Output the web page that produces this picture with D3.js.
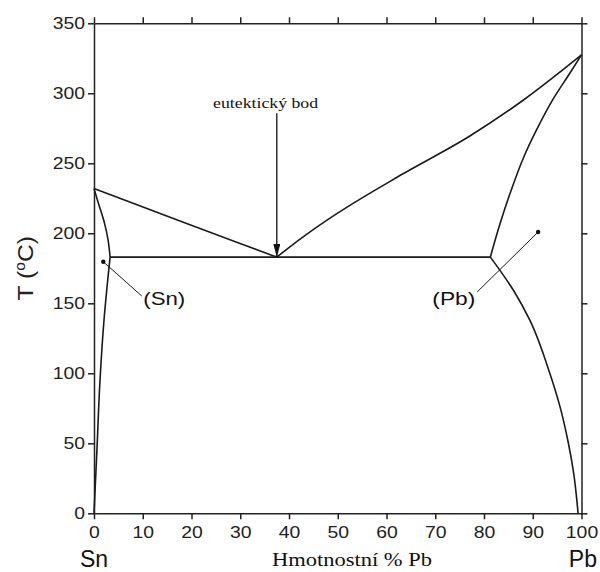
<!DOCTYPE html>
<html>
<head>
<meta charset="utf-8">
<script src="https://cdn.jsdelivr.net/npm/d3@7"></script>
<style>
  body { margin: 0; background: #fff; }
  svg { display: block; }
  .axis path, .axis line { stroke: #222; stroke-width: 1.5; }
  .axis text { font-family: "Liberation Sans", Arial, sans-serif; font-size: 17px; fill: #222; }
  .curve { fill: none; stroke: #1a1a1a; stroke-width: 1.6; }
  .leader { stroke: #1a1a1a; stroke-width: 1; }
</style>
</head>
<body>
<div id="chart"></div>
<script>
//******************************************************************************
//**  Data (weight % Pb, temperature in C)
//******************************************************************************
var compTicks = [0, 10, 20, 30, 40, 50, 60, 70, 80, 90, 100];
var tempTicks = [0, 50, 100, 150, 200, 250, 300, 350];

// shallow curves, drawn as function of composition
var liquidusSn = [[0, 232], [19, 207], [29, 194], [37.5, 183]];
var liquidusPb = [[37.5, 183], [42.9, 197.4], [49.8, 214], [63.4, 242.5], [77.1, 269.5], [88.1, 295.2], [100, 327.4]];
var eutecticLine = [[3.3, 183], [81.3, 183]];

// steep curves, drawn as function of temperature (ordered by T)
var solvusSn = [[0, 0], [0.6, 45], [1.2, 93], [2.1, 140], [3.3, 183]];
var solidusSn = [[3.3, 183], [2.9, 195], [2.1, 208], [0.9, 221.5], [0, 232]];
var solvusPb = [[99.3, 0], [98.4, 28.6], [97.2, 52], [95.6, 76], [93.5, 100], [89.4, 138], [86.0, 159.5], [81.3, 183]];
var solidusPb = [[81.3, 183], [83.3, 207], [85.3, 228], [88.1, 254], [90.8, 274], [94.2, 296], [97.6, 314.3], [100, 327.4]];

var eutecticPoint = [37.5, 183];
var eutecticLabel = {text: "eutektický bod", at: [35.2, 289.3], arrowFrom: [37.5, 285.7]};
var phaseLabels = [
    {text: "(Sn)", dot: [1.9, 179.7], end: [9.8, 155.2], at: [10.1, 148.5], width: 42},
    {text: "(Pb)", dot: [91.1, 200.9], end: [78.6, 158.1], at: [69.4, 148.5], width: 43}
];


//******************************************************************************
//**  Layout
//******************************************************************************
var width = 600, height = 572;
var margin = {top: 23.3, right: 18.5, bottom: 58.7, left: 94};

var svg = d3.select("#chart").append("svg")
    .attr("width", width)
    .attr("height", height);

var x = d3.scaleLinear().domain([0, 100]).range([margin.left, width - margin.right]);
var y = d3.scaleLinear().domain([0, 350]).range([height - margin.bottom, margin.top]);

// stretch text horizontally a bit, the original glyphs are wider
var stretch = function(sel, k){
    sel.each(function(){
        var w = this.getComputedTextLength();
        d3.select(this).attr("textLength", w * k).attr("lengthAdjust", "spacingAndGlyphs");
    });
};


//******************************************************************************
//**  Axes
//******************************************************************************
var gx = svg.append("g").attr("class", "axis")
    .attr("transform", "translate(0," + y(0) + ")")
    .call(d3.axisBottom(x).tickValues(compTicks).tickSize(6).tickSizeOuter(0).tickPadding(7));
stretch(gx.selectAll("text"), 1.14);

var gy = svg.append("g").attr("class", "axis")
    .attr("transform", "translate(" + x(0) + ",0)")
    .call(d3.axisLeft(y).tickValues(tempTicks).tickSize(6).tickSizeOuter(0).tickPadding(3));
stretch(gy.selectAll("text"), 1.14);

svg.append("g").attr("class", "axis")
    .attr("transform", "translate(0," + y(350) + ")")
    .call(d3.axisTop(x).tickValues(compTicks).tickSize(6).tickSizeOuter(0).tickFormat(""));

svg.append("g").attr("class", "axis")
    .attr("transform", "translate(" + x(100) + ",0)")
    .call(d3.axisRight(y).tickValues(tempTicks).tickSize(6).tickSizeOuter(0).tickFormat(""));


//******************************************************************************
//**  Axis titles
//******************************************************************************
var title = svg.append("text")
    .attr("transform", "translate(33.3," + (y(0) + y(350)) / 2 + ") rotate(-90) scale(1.12,1)")
    .attr("text-anchor", "middle")
    .style("font-family", "Liberation Sans, Arial, sans-serif")
    .style("font-size", "22px")
    .attr("fill", "#222");
title.append("tspan").text("T (");
title.append("tspan").attr("dy", -8).style("font-size", "14px").text("o");
title.append("tspan").attr("dy", 8).text("C)");

svg.append("text")
    .attr("x", 80).attr("y", 567)
    .style("font-family", "Liberation Sans, Arial, sans-serif")
    .style("font-size", "23px")
    .attr("fill", "#111")
    .text("Sn");

svg.append("text")
    .attr("x", 597).attr("y", 567)
    .attr("text-anchor", "end")
    .style("font-family", "Liberation Sans, Arial, sans-serif")
    .style("font-size", "23px")
    .attr("fill", "#111")
    .text("Pb");

svg.append("text")
    .attr("x", 272).attr("y", 566)
    .attr("textLength", 160).attr("lengthAdjust", "spacingAndGlyphs")
    .style("font-family", "Liberation Serif, Times New Roman, serif")
    .style("font-size", "19px")
    .attr("fill", "#111")
    .text("Hmotnostní % Pb");


//******************************************************************************
//**  Phase boundaries
//******************************************************************************
var lineX = d3.line()
    .x(function(d){ return x(d[0]); })
    .y(function(d){ return y(d[1]); })
    .curve(d3.curveMonotoneX);

var lineY = d3.line()
    .x(function(d){ return x(d[0]); })
    .y(function(d){ return y(d[1]); })
    .curve(d3.curveMonotoneY);

[liquidusSn, liquidusPb, eutecticLine].forEach(function(pts){
    svg.append("path").attr("class", "curve").attr("d", lineX(pts));
});
[solvusSn, solidusSn, solvusPb, solidusPb].forEach(function(pts){
    svg.append("path").attr("class", "curve").attr("d", lineY(pts));
});


//******************************************************************************
//**  Annotations
//******************************************************************************
svg.append("defs").append("marker")
    .attr("id", "arrow")
    .attr("viewBox", "0 0 13 7")
    .attr("refX", 13).attr("refY", 3.5)
    .attr("markerWidth", 13).attr("markerHeight", 7)
    .attr("markerUnits", "userSpaceOnUse")
    .attr("orient", "auto")
  .append("path")
    .attr("d", "M0,0L13,3.5L0,7Z")
    .attr("fill", "#111");

svg.append("line")
    .attr("x1", x(eutecticLabel.arrowFrom[0])).attr("y1", y(eutecticLabel.arrowFrom[1]))
    .attr("x2", x(eutecticPoint[0])).attr("y2", y(eutecticPoint[1]))
    .attr("stroke", "#111").attr("stroke-width", 1.3)
    .attr("marker-end", "url(#arrow)");

svg.append("text")
    .attr("x", x(eutecticLabel.at[0])).attr("y", y(eutecticLabel.at[1]))
    .attr("text-anchor", "middle")
    .attr("textLength", 105).attr("lengthAdjust", "spacingAndGlyphs")
    .style("font-family", "Liberation Serif, Times New Roman, serif")
    .style("font-size", "15px")
    .attr("fill", "#111")
    .text(eutecticLabel.text);

phaseLabels.forEach(function(p){
    svg.append("line").attr("class", "leader")
        .attr("x1", x(p.dot[0])).attr("y1", y(p.dot[1]))
        .attr("x2", x(p.end[0])).attr("y2", y(p.end[1]));
    svg.append("circle")
        .attr("cx", x(p.dot[0])).attr("cy", y(p.dot[1]))
        .attr("r", 2.2).attr("fill", "#111");
    svg.append("text")
        .attr("x", x(p.at[0])).attr("y", y(p.at[1]))
        .attr("textLength", p.width).attr("lengthAdjust", "spacingAndGlyphs")
        .style("font-family", "Liberation Sans, Arial, sans-serif")
        .style("font-size", "18.5px")
        .attr("fill", "#111")
        .text(p.text);
});
</script>
</body>
</html>
